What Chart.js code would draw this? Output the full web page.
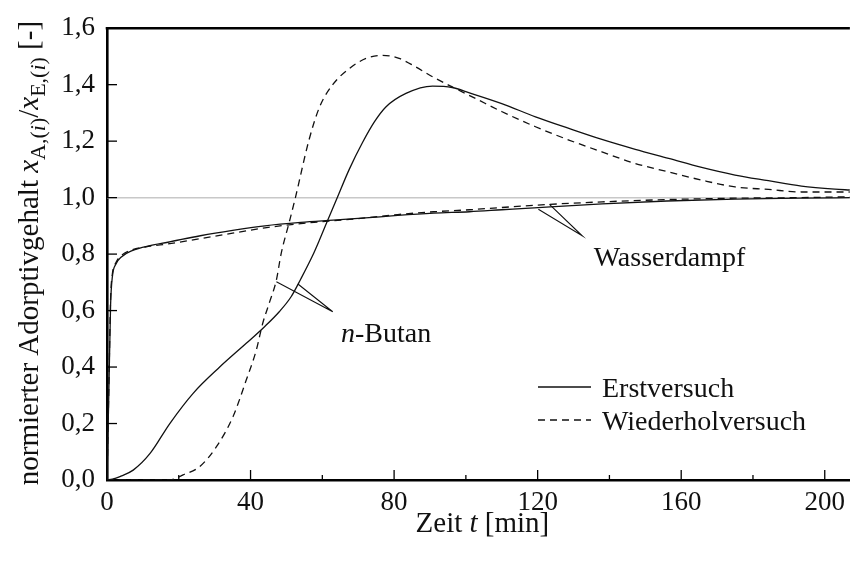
<!DOCTYPE html>
<html>
<head>
<meta charset="utf-8">
<script src="https://cdn.jsdelivr.net/npm/chart.js@4/dist/chart.umd.min.js"></script>
<style>
  html, body { margin: 0; padding: 0; background: #fff; }
  canvas { display: block; }
</style>
</head>
<body>
<canvas id="c" width="852" height="561"></canvas>
<script>
// ---- Messdaten: normierter Adsorptivgehalt über der Zeit ----
// n-Butan, Erstversuch
const tButanErst = [0, 1.5, 3.6, 7.3, 12, 17.5, 24, 31.4, 38.8, 43.9, 48, 51.3, 54, 57.3, 59.2, 61, 64, 67.5, 71.2, 74.5, 77.7, 83.3, 90.7, 96.2, 101, 110, 119.4, 128.7, 137.9, 147.2, 156.5, 165.7, 175, 184.3, 193.5, 202.8, 207];
const yButanErst = [0, 0.003, 0.012, 0.035, 0.094, 0.20, 0.307, 0.40, 0.484, 0.543, 0.596, 0.649, 0.712, 0.795, 0.85, 0.905, 0.995, 1.1, 1.195, 1.268, 1.321, 1.369, 1.395, 1.39, 1.371, 1.333, 1.286, 1.245, 1.206, 1.171, 1.139, 1.107, 1.08, 1.06, 1.041, 1.03, 1.027];
// n-Butan, Wiederholversuch
const tButanWdh = [0, 17.5, 21.2, 25.8, 30.5, 35.1, 38.8, 41.6, 43.4, 45.3, 47.2, 48.5, 50.7, 52.5, 56.2, 59.2, 62.9, 67.5, 72.2, 76.8, 81.4, 86, 90.7, 96.2, 102.7, 110.1, 119.4, 128.7, 137.9, 147.2, 156.5, 165.7, 175, 184.3, 193.5, 207];
const yButanWdh = [0, 0, 0.018, 0.047, 0.118, 0.224, 0.354, 0.46, 0.555, 0.63, 0.708, 0.80, 0.909, 1.0, 1.2, 1.32, 1.4, 1.457, 1.493, 1.504, 1.493, 1.463, 1.428, 1.392, 1.351, 1.304, 1.251, 1.204, 1.162, 1.121, 1.091, 1.062, 1.038, 1.029, 1.02, 1.02];
// Wasserdampf, Erstversuch
const tWasserErst = [0, 0.5, 1.0, 1.5, 2.5, 4, 7, 12, 17, 26, 35, 44, 54, 63, 72, 81, 91, 101, 110, 119, 138, 156, 175, 193, 207];
const yWasserErst = [0, 0.30, 0.62, 0.72, 0.765, 0.79, 0.812, 0.83, 0.842, 0.865, 0.884, 0.90, 0.912, 0.92, 0.928, 0.937, 0.945, 0.95, 0.957, 0.964, 0.978, 0.988, 0.995, 0.998, 1.0];
// Wasserdampf, Wiederholversuch
const tWasserWdh = [0, 0.5, 1.0, 1.5, 2.5, 4, 7, 12, 17, 26, 35, 44, 54, 63, 72, 81, 91, 101, 110, 119, 138, 156, 175, 193, 207];
const yWasserWdh = [0, 0.32, 0.64, 0.73, 0.77, 0.795, 0.815, 0.828, 0.836, 0.855, 0.874, 0.893, 0.908, 0.918, 0.928, 0.94, 0.95, 0.957, 0.965, 0.973, 0.985, 0.993, 0.998, 1.0, 1.003];

// Bezugslinien der Beschriftungen (Kurvenpunkt – Spitze – Kurvenpunkt)
const tLeaderButan = [47.2, 62.9, 53.2];
const yLeaderButan = [0.702, 0.596, 0.694];
const tLeaderWasser = [120.2, 132.4, 123.3];
const yLeaderWasser = [0.959, 0.865, 0.976];

// Achsen
const xTicks = [0, 40, 80, 120, 160, 200];
const xTickLabels = ['0', '40', '80', '120', '160', '200'];
const xMinorTicks = [20, 60, 100, 140, 180];
const yTicks = [0, 0.2, 0.4, 0.6, 0.8, 1.0, 1.2, 1.4, 1.6];
const yTickLabels = ['0,0', '0,2', '0,4', '0,6', '0,8', '1,0', '1,2', '1,4', '1,6'];
const yReference = [1.0];

const seriesNames = ['Erstversuch', 'Wiederholversuch'];
const labelButan = { t: 65.2, y: 0.488 };
const labelWasser = { t: 135.6, y: 0.7575 };

const SERIF = "'Liberation Serif', 'Times New Roman', serif";
const FS = 28;       // Beschriftungen im Diagramm
const FS_TICK = 27;  // Achsenzahlen
const FS_TITLE = 29; // Achsentitel
const INK = '#111';
const DASH = [7, 5];

const pts = (t, y) => t.map((v, i) => ({ x: v, y: y[i] }));

function curve(t, y, dashed) {
  return {
    data: pts(t, y),
    borderColor: INK,
    borderWidth: 1.3,
    borderDash: dashed ? DASH : [],
    pointRadius: 0,
    fill: false,
    cubicInterpolationMode: 'monotone'
  };
}
function leader(t, y) {
  return {
    data: pts(t, y),
    borderColor: INK,
    borderWidth: 1.1,
    pointRadius: 0,
    fill: false,
    tension: 0
  };
}

// Mehrteiliger Text (kursiv / tiefgestellt) entlang einer Grundlinie
function segFont(s, base) {
  const size = s.sub ? Math.round(base * 0.75) : base;
  return (s.italic ? 'italic ' : '') + size + 'px ' + SERIF;
}
function richWidth(ctx, segs, base) {
  let w = 0;
  for (const s of segs) { ctx.font = segFont(s, base); w += ctx.measureText(s.text).width; }
  return w;
}
function drawRich(ctx, segs, x, y, base) {
  let cx = x;
  for (const s of segs) {
    ctx.font = segFont(s, base);
    ctx.fillText(s.text, cx, y + (s.sub ? 7 : 0));
    cx += ctx.measureText(s.text).width;
  }
}

const yTitle = [
  { text: 'normierter Adorptivgehalt ' },
  { text: 'x', italic: true },
  { text: 'A,(', sub: true }, { text: 'i', sub: true, italic: true }, { text: ')', sub: true },
  { text: '/' },
  { text: 'x', italic: true },
  { text: 'E,(', sub: true }, { text: 'i', sub: true, italic: true }, { text: ')', sub: true },
  { text: ' [-]' }
];
const xTitle = [
  { text: 'Zeit ' }, { text: 't', italic: true }, { text: ' [min]' }
];
const butanText = [{ text: 'n', italic: true }, { text: '-Butan' }];

const decor = {
  id: 'decor',
  beforeDatasetsDraw(chart) {
    const { ctx, chartArea: a, scales: { y } } = chart;
    ctx.save();
    ctx.strokeStyle = '#c8c8c8';
    ctx.lineWidth = 1.5;
    for (const v of yReference) {
      const py = y.getPixelForValue(v);
      ctx.beginPath(); ctx.moveTo(a.left, py); ctx.lineTo(a.right, py); ctx.stroke();
    }
    ctx.restore();
  },
  afterDraw(chart) {
    const { ctx, chartArea: a, scales: { x, y } } = chart;
    ctx.save();
    // oberer Rahmen
    ctx.strokeStyle = '#000';
    ctx.lineWidth = 2.6;
    ctx.beginPath(); ctx.moveTo(a.left - 1.3, a.top); ctx.lineTo(a.right, a.top); ctx.stroke();
    // Teilstriche nach innen
    ctx.lineWidth = 1.3;
    for (const v of xTicks) {
      if (v === 0) continue;
      const px = x.getPixelForValue(v);
      ctx.beginPath(); ctx.moveTo(px, a.bottom); ctx.lineTo(px, a.bottom - 10); ctx.stroke();
    }
    for (const v of xMinorTicks) {
      const px = x.getPixelForValue(v);
      ctx.beginPath(); ctx.moveTo(px, a.bottom); ctx.lineTo(px, a.bottom - 5); ctx.stroke();
    }
    for (const v of yTicks) {
      if (v === 0 || v === 1.6) continue;
      const py = y.getPixelForValue(v);
      ctx.beginPath(); ctx.moveTo(a.left, py); ctx.lineTo(a.left + 10, py); ctx.stroke();
    }

    ctx.fillStyle = INK;
    ctx.textBaseline = 'alphabetic';
    ctx.textAlign = 'left';
    // x-Achsentitel
    const wx = richWidth(ctx, xTitle, FS_TITLE);
    drawRich(ctx, xTitle, (a.left + a.right) / 2 + 4 - wx / 2, 532, FS_TITLE);
    // y-Achsentitel (gedreht)
    const wy = richWidth(ctx, yTitle, FS_TITLE);
    ctx.save();
    ctx.translate(38, (a.top + a.bottom) / 2 - 1);
    ctx.rotate(-Math.PI / 2);
    drawRich(ctx, yTitle, -wy / 2, 0, FS_TITLE);
    ctx.restore();

    // Kurvenbeschriftungen
    drawRich(ctx, butanText, x.getPixelForValue(labelButan.t), y.getPixelForValue(labelButan.y), FS);
    drawRich(ctx, [{ text: 'Wasserdampf' }], x.getPixelForValue(labelWasser.t), y.getPixelForValue(labelWasser.y), FS);

    // Legende
    const lx0 = 538, lx1 = 591, tx = 602;
    const rows = [{ y: 387, dash: [] }, { y: 420, dash: DASH }];
    rows.forEach((r, i) => {
      ctx.strokeStyle = INK;
      ctx.lineWidth = 1.3;
      ctx.setLineDash(r.dash);
      ctx.beginPath(); ctx.moveTo(lx0, r.y); ctx.lineTo(lx1, r.y); ctx.stroke();
      ctx.setLineDash([]);
      ctx.font = FS + 'px ' + SERIF;
      ctx.fillText(seriesNames[i], tx, r.y + 10);
    });
    ctx.restore();
  }
};

new Chart(document.getElementById('c'), {
  type: 'line',
  data: {
    datasets: [
      curve(tButanErst, yButanErst, false),
      curve(tButanWdh, yButanWdh, true),
      curve(tWasserErst, yWasserErst, false),
      curve(tWasserWdh, yWasserWdh, true),
      leader(tLeaderButan, yLeaderButan),
      leader(tLeaderWasser, yLeaderWasser)
    ]
  },
  options: {
    responsive: false,
    animation: false,
    devicePixelRatio: 1,
    layout: { padding: { top: 28, left: 0, right: 0, bottom: 0 } },
    plugins: { legend: { display: false }, tooltip: { enabled: false } },
    scales: {
      x: {
        type: 'linear',
        min: 0,
        max: 207,
        afterBuildTicks: s => { s.ticks = xTicks.map(v => ({ value: v })); },
        afterFit: s => { s.height = 81; },
        grid: { display: false, drawTicks: false },
        border: { display: true, color: '#000', width: 2.6 },
        ticks: {
          padding: 7,
          color: INK,
          maxRotation: 0,
          autoSkip: false,
          font: { family: SERIF, size: FS_TICK },
          callback: (v, i) => xTickLabels[i]
        }
      },
      y: {
        min: 0,
        max: 1.6,
        afterBuildTicks: s => { s.ticks = yTicks.map(v => ({ value: v })); },
        afterFit: s => { s.width = 107; },
        grid: { display: false, drawTicks: false },
        border: { display: true, color: '#000', width: 2.6 },
        ticks: {
          padding: 12,
          color: INK,
          autoSkip: false,
          font: { family: SERIF, size: FS_TICK },
          callback: (v, i) => yTickLabels[i]
        }
      }
    }
  },
  plugins: [decor]
});
</script>
</body>
</html>
